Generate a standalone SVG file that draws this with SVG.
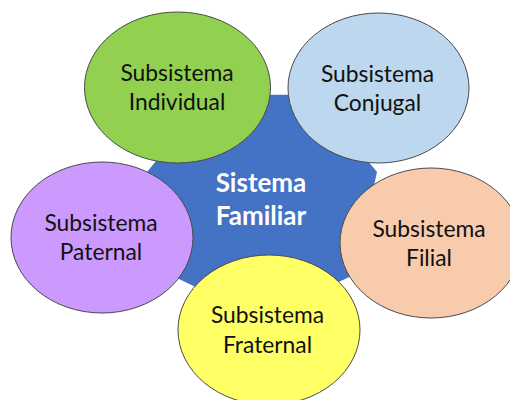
<svg xmlns="http://www.w3.org/2000/svg" width="510" height="400" viewBox="0 0 510 400">
  <style>
    .sub { stroke: #4a4a4a; stroke-width: 1; }
    .lbl { font-family: Lato, "Open Sans", "Liberation Sans", sans-serif; font-size: 22.8px; fill: #111111; text-anchor: middle; }
    .core { font-family: Lato, "Open Sans", "Liberation Sans", sans-serif; font-size: 26px; font-weight: bold; fill: #ffffff; text-anchor: middle; }
  </style>
  <rect width="510" height="400" fill="#ffffff"/>

  <!-- central system: flat-topped heptagon -->
  <g id="sistema-familiar">
    <polygon points="210.8,94.7 313.2,94.7 377,172 354.3,274.6 262,319 169.7,274.6 147,172" fill="#4472C4"/>
    <text class="core" x="261" y="192">Sistema</text>
    <text class="core" x="261" y="225">Familiar</text>
  </g>

  <g id="subsistema-individual">
    <ellipse class="sub" cx="177.5" cy="87.5" rx="93" ry="75.5" fill="#92D050"/>
    <text class="lbl" x="177" y="81">Subsistema</text>
    <text class="lbl" x="177" y="110">Individual</text>
  </g>

  <g id="subsistema-conjugal">
    <ellipse class="sub" cx="378.5" cy="88" rx="90.5" ry="75" fill="#BDD7EE"/>
    <text class="lbl" x="377.5" y="82">Subsistema</text>
    <text class="lbl" x="377.5" y="111">Conjugal</text>
  </g>

  <g id="subsistema-paternal">
    <ellipse class="sub" cx="102" cy="237.5" rx="91" ry="75.5" fill="#CC99FF"/>
    <text class="lbl" x="101" y="231">Subsistema</text>
    <text class="lbl" x="101" y="260">Paternal</text>
  </g>

  <g id="subsistema-filial">
    <ellipse class="sub" cx="431" cy="243" rx="91" ry="75" fill="#F8CBAD"/>
    <text class="lbl" x="429" y="237">Subsistema</text>
    <text class="lbl" x="429" y="266">Filial</text>
  </g>

  <g id="subsistema-fraternal">
    <ellipse class="sub" cx="269" cy="330" rx="91" ry="75" fill="#FFFF66"/>
    <text class="lbl" x="267.5" y="323">Subsistema</text>
    <text class="lbl" x="267.5" y="353">Fraternal</text>
  </g>
</svg>
